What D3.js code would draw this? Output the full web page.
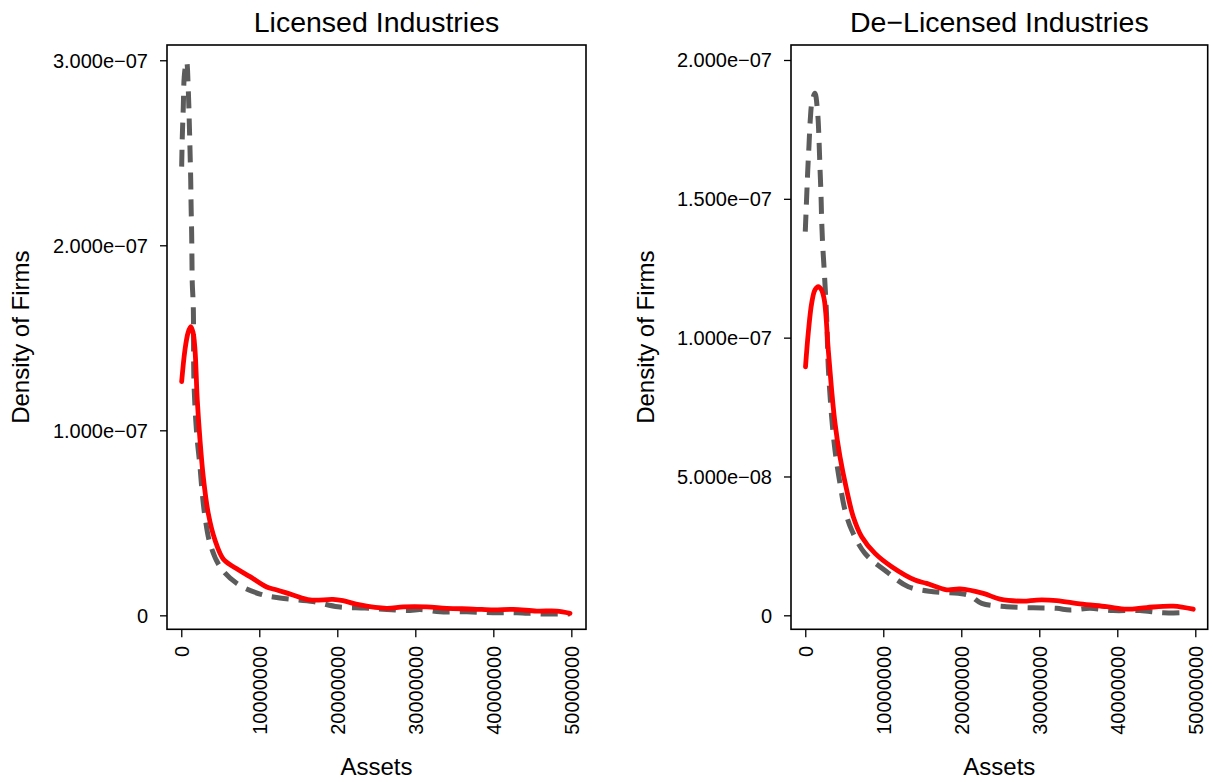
<!DOCTYPE html>
<html>
<head>
<meta charset="utf-8">
<script src="https://cdn.jsdelivr.net/npm/d3@7"></script>
<style>
  html, body { margin: 0; padding: 0; background: #fff; }
  svg { display: block; font-family: "Liberation Sans", Arial, Helvetica, sans-serif; }
</style>
</head>
<body>
<svg id="chart" width="1213" height="782"></svg>
<script>
// ---------------- Data ----------------
const panelTitles = ["Licensed Industries", "De\u2212Licensed Industries"];
const xLabel = "Assets";
const yLabel = "Density of Firms";

const xTicks = [0, 10000000, 20000000, 30000000, 40000000, 50000000];
const yTicksLicensed = [0, 1e-7, 2e-7, 3e-7];
const yTickLabelsLicensed = ["0", "1.000e\u221207", "2.000e\u221207", "3.000e\u221207"];
const yTicksDelicensed = [0, 5e-8, 1e-7, 1.5e-7, 2e-7];
const yTickLabelsDelicensed = ["0", "5.000e\u221208", "1.000e\u221207", "1.500e\u221207", "2.000e\u221207"];

// Licensed industries: dashed grey series
const licDashedX = [0.05e6, 0.13e6, 0.26e6, 0.38e6, 0.6e6, 0.69e6, 0.9e6, 1.03e6, 1.12e6, 1.21e6, 1.26e6, 1.33e6, 1.37e6, 1.41e6, 1.54e6, 1.63e6, 1.97e6, 2.4e6, 2.69e6, 3.04e6, 3.68e6, 4.96e6, 7.1e6, 10.09e6, 12.65e6, 16.92e6, 20.09e6, 23.55e6, 26.37e6, 29.32e6, 30.6e6, 33.19e6, 36.63e6, 39.96e6, 43.04e6, 46.37e6, 49.83e6];
const licDashedY = [2.425e-7, 2.587e-7, 2.749e-7, 2.911e-7, 2.984e-7, 2.992e-7, 2.839e-7, 2.659e-7, 2.515e-7, 2.353e-7, 2.209e-7, 2.065e-7, 1.921e-7, 1.795e-7, 1.668e-7, 1.256e-7, 0.985e-7, 0.803e-7, 0.659e-7, 0.533e-7, 0.389e-7, 0.263e-7, 0.173e-7, 0.115e-7, 0.094e-7, 0.074e-7, 0.046e-7, 0.039e-7, 0.032e-7, 0.026e-7, 0.031e-7, 0.019e-7, 0.019e-7, 0.014e-7, 0.014e-7, 0.007e-7, 0.008e-7];

// Licensed industries: solid red series
const licSolidX = [0.05e6, 0.47e6, 0.86e6, 1.21e6, 1.5e6, 1.76e6, 2.05e6, 2.4e6, 2.82e6, 3.46e6, 4.32e6, 5.38e6, 7.01e6, 8.81e6, 10.95e6, 12.27e6, 14.32e6, 16.51e6, 19.45e6, 20.73e6, 22.92e6, 26.33e6, 28.46e6, 31.46e6, 34.03e6, 37.44e6, 40.0e6, 42.56e6, 45.56e6, 48.13e6, 49.83e6];
const licSolidY = [1.263e-7, 1.434e-7, 1.526e-7, 1.56e-7, 1.531e-7, 1.434e-7, 1.164e-7, 0.948e-7, 0.749e-7, 0.551e-7, 0.407e-7, 0.305e-7, 0.254e-7, 0.209e-7, 0.153e-7, 0.137e-7, 0.11e-7, 0.083e-7, 0.086e-7, 0.079e-7, 0.056e-7, 0.038e-7, 0.046e-7, 0.046e-7, 0.038e-7, 0.034e-7, 0.029e-7, 0.032e-7, 0.023e-7, 0.023e-7, 0.011e-7];

// De-licensed industries: dashed grey series
const delDashedX = [0.0e6, 0.18e6, 0.31e6, 0.47e6, 0.64e6, 0.86e6, 1.24e6, 1.59e6, 1.76e6, 1.88e6, 2.01e6, 2.1e6, 2.23e6, 2.4e6, 2.74e6, 2.95e6, 3.38e6, 3.81e6, 4.45e6, 5.09e6, 5.95e6, 7.65e6, 10.44e6, 13.21e6, 16.41e6, 19.62e6, 21.12e6, 22.62e6, 25.82e6, 29.23e6, 32.23e6, 33.94e6, 36.5e6, 39.49e6, 42.91e6, 45.9e6, 48.68e6];
const delDashedY = [1.382e-7, 1.508e-7, 1.598e-7, 1.688e-7, 1.784e-7, 1.849e-7, 1.88e-7, 1.808e-7, 1.712e-7, 1.616e-7, 1.52e-7, 1.424e-7, 1.334e-7, 1.256e-7, 1.075e-7, 0.895e-7, 0.715e-7, 0.595e-7, 0.475e-7, 0.379e-7, 0.307e-7, 0.223e-7, 0.157e-7, 0.103e-7, 0.085e-7, 0.079e-7, 0.07e-7, 0.043e-7, 0.031e-7, 0.027e-7, 0.025e-7, 0.019e-7, 0.025e-7, 0.017e-7, 0.017e-7, 0.009e-7, 0.01e-7];

// De-licensed industries: solid red series
const delSolidX = [0.03e6, 0.38e6, 0.82e6, 1.24e6, 1.67e6, 2.08e6, 2.44e6, 2.95e6, 3.38e6, 3.81e6, 4.45e6, 5.31e6, 6.15e6, 7.23e6, 8.94e6, 11.08e6, 14.06e6, 15.56e6, 18.13e6, 19.83e6, 22.82e6, 24.96e6, 27.95e6, 29.67e6, 32.23e6, 35.22e6, 38.64e6, 41.21e6, 43.77e6, 47.18e6, 49.74e6];
const delSolidY = [0.895e-7, 1.016e-7, 1.124e-7, 1.172e-7, 1.184e-7, 1.172e-7, 1.136e-7, 0.955e-7, 0.811e-7, 0.692e-7, 0.571e-7, 0.451e-7, 0.355e-7, 0.283e-7, 0.223e-7, 0.175e-7, 0.127e-7, 0.115e-7, 0.092e-7, 0.095e-7, 0.079e-7, 0.058e-7, 0.051e-7, 0.055e-7, 0.053e-7, 0.041e-7, 0.031e-7, 0.022e-7, 0.028e-7, 0.033e-7, 0.022e-7];

// ---------------- Layout ----------------
const svg = d3.select("#chart");
const boxTop = 45, boxBottom = 629.3;

const panels = [
  {
    title: panelTitles[0],
    left: 167, right: 586,
    xDomain: [-1.83e6, 51.88e6],
    yDomain: [-0.0755e-7, 3.0825e-7],
    yTicks: yTicksLicensed, yTickLabels: yTickLabelsLicensed,
    dashed: d3.zip(licDashedX, licDashedY),
    solid: d3.zip(licSolidX, licSolidY),
    yLabelX: 29
  },
  {
    title: panelTitles[1],
    left: 791, right: 1207.7,
    xDomain: [-1.83e6, 51.59e6],
    yDomain: [-0.0504e-7, 2.054e-7],
    yTicks: yTicksDelicensed, yTickLabels: yTickLabelsDelicensed,
    dashed: d3.zip(delDashedX, delDashedY),
    solid: d3.zip(delSolidX, delSolidY),
    yLabelX: 654
  }
];

panels.forEach(p => {
  const x = d3.scaleLinear().domain(p.xDomain).range([p.left, p.right]);
  const y = d3.scaleLinear().domain(p.yDomain).range([boxBottom, boxTop]);
  const g = svg.append("g");

  const clipId = "clip" + Math.round(p.left);
  svg.append("clipPath").attr("id", clipId)
    .append("rect").attr("x", p.left).attr("y", boxTop)
    .attr("width", p.right - p.left).attr("height", boxBottom - boxTop);

  const line = d3.line()
    .x(d => x(d[0])).y(d => y(d[1]))
    .curve(d3.curveCatmullRom.alpha(0.5));

  g.append("path")
    .datum(p.dashed)
    .attr("clip-path", `url(#${clipId})`)
    .attr("d", line)
    .attr("fill", "none")
    .attr("stroke", "#5c5c5c")
    .attr("stroke-width", 5)
    .attr("stroke-dasharray", "17,10");

  g.append("path")
    .datum(p.solid)
    .attr("clip-path", `url(#${clipId})`)
    .attr("d", line)
    .attr("fill", "none")
    .attr("stroke", "#ff0000")
    .attr("stroke-width", 4.8)
    .attr("stroke-linecap", "round")
    .attr("stroke-linejoin", "round");

  // box
  g.append("rect")
    .attr("x", p.left).attr("y", boxTop)
    .attr("width", p.right - p.left).attr("height", boxBottom - boxTop)
    .attr("fill", "none").attr("stroke", "#000").attr("stroke-width", 1.6);

  // x axis
  const xAxis = g.append("g")
    .attr("transform", `translate(0,${boxBottom})`)
    .call(d3.axisBottom(x).tickValues(xTicks).tickSize(8).tickFormat(d3.format("d")));
  xAxis.select(".domain").remove();
  xAxis.selectAll(".tick line").attr("stroke", "#000").attr("stroke-width", 1.3);
  xAxis.selectAll(".tick text")
    .attr("transform", "rotate(-90)")
    .attr("x", -16.5).attr("y", 0).attr("dy", "0.35em")
    .attr("text-anchor", "end")
    .attr("font-size", 20).attr("fill", "#000")
    .attr("font-family", "Liberation Sans, Arial, sans-serif");

  // y axis
  const yAxis = g.append("g")
    .attr("transform", `translate(${p.left},0)`)
    .call(d3.axisLeft(y).tickValues(p.yTicks).tickSize(7).tickPadding(12)
      .tickFormat((d, i) => p.yTickLabels[i]));
  yAxis.select(".domain").remove();
  yAxis.selectAll(".tick line").attr("stroke", "#000").attr("stroke-width", 1.3);
  yAxis.selectAll(".tick text")
    .attr("dy", "0.35em")
    .attr("font-size", 20).attr("fill", "#000")
    .attr("font-family", "Liberation Sans, Arial, sans-serif");

  // titles and labels
  const cx = (p.left + p.right) / 2;
  g.append("text")
    .attr("x", cx).attr("y", 32)
    .attr("text-anchor", "middle")
    .attr("font-size", 28.5)
    .text(p.title);

  g.append("text")
    .attr("x", cx).attr("y", 775)
    .attr("text-anchor", "middle")
    .attr("font-size", 24)
    .text(xLabel);

  g.append("text")
    .attr("transform", `translate(${p.yLabelX},${(boxTop + boxBottom) / 2}) rotate(-90)`)
    .attr("text-anchor", "middle")
    .attr("font-size", 24)
    .text(yLabel);
});
</script>
</body>
</html>
